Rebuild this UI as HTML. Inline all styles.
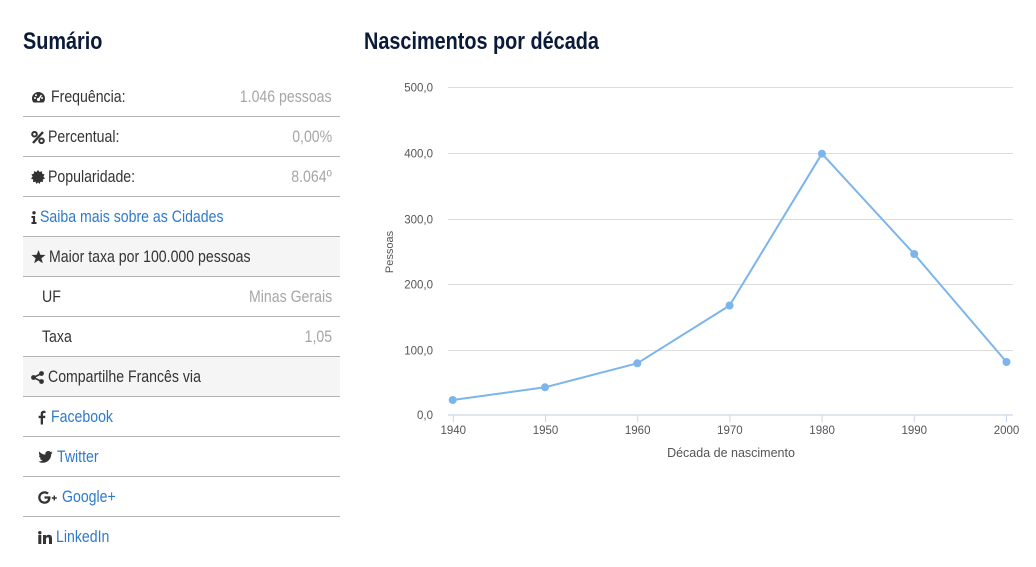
<!DOCTYPE html>
<html><head><meta charset="utf-8">
<style>
html,body{margin:0;padding:0;background:#fff;}
body{width:1036px;height:567px;position:relative;overflow:hidden;font-family:"Liberation Sans",sans-serif;}
.h{position:absolute;margin:0;font-weight:bold;font-size:24.5px;line-height:24px;color:#0b1a38;white-space:nowrap;transform:scaleX(0.81);transform-origin:left center;}
.tbl{position:absolute;left:23px;top:77px;width:317px;}
.row{height:40px;box-sizing:border-box;border-bottom:1px solid #b4b4b4;display:flex;align-items:center;font-size:17px;color:#333;padding:0 8px;white-space:nowrap;}
.row.last{border-bottom:none;}
.row.sh{background:#f5f5f5;}
.t{display:inline-block;transform:scaleX(0.83);transform-origin:left center;}
.row .v{margin-left:auto;color:#a6a6a6;display:inline-block;transform:scaleX(0.83);transform-origin:right center;}
.row a{color:#2d7acb;text-decoration:none;}
.ic{display:inline-block;margin-right:5px;flex:none;position:relative;top:0.5px;}
.sub{padding-left:19px;}
.soc{padding-left:15px;}
</style></head><body>
<div class="h" style="left:23px;top:30px;">Sumário</div>
<div class="h" style="left:364px;top:30px;">Nascimentos por década</div>

<div class="tbl">
 <div class="row"><svg class="ic" width="15" height="13" viewBox="0 0 15 13"><path d="M7.5 1A6.5 6.5 0 0 0 1 7.5c0 1.6.6 3 1.5 4h10c.9-1 1.5-2.4 1.5-4A6.5 6.5 0 0 0 7.5 1z" fill="#333"/><circle cx="7.5" cy="8.5" r="1.6" fill="#fff"/><path d="M7.5 8.5L10.5 4" stroke="#fff" stroke-width="1.4"/><circle cx="4" cy="7" r="1" fill="#fff"/><circle cx="5" cy="4.2" r="1" fill="#fff"/><circle cx="11" cy="7" r="1" fill="#fff"/></svg><span class="t">Frequência:</span><span class="v">1.046 pessoas</span></div>
 <div class="row"><svg class="ic" width="14" height="13" viewBox="0 0 14 13" style="margin-right:3px"><circle cx="3.5" cy="3.2" r="2.3" fill="none" stroke="#333" stroke-width="2"/><circle cx="10.5" cy="9.8" r="2.3" fill="none" stroke="#333" stroke-width="2"/><path d="M12 1L2 12" stroke="#333" stroke-width="2.4"/></svg><span class="t">Percentual:</span><span class="v">0,00%</span></div>
 <div class="row"><svg class="ic" width="14" height="14" viewBox="0 0 14 14" style="margin-right:3px"><polygon points="7,0 8.6,2 11,1.2 11.2,3.7 13.6,4.4 12.4,6.6 14,8.4 11.8,9.6 12,12 9.6,11.8 8.4,14 7,12.2 5.6,14 4.4,11.8 2,12 2.2,9.6 0,8.4 1.6,6.6 0.4,4.4 2.8,3.7 3,1.2 5.4,2" fill="#333"/></svg><span class="t">Popularidade:</span><span class="v">8.064º</span></div>
 <div class="row"><svg class="ic" width="6" height="13" viewBox="0 0 6 13" style="margin-right:3px"><circle cx="3" cy="1.8" r="1.7" fill="#333"/><path d="M0.5 5h3.6v6h1.4v2h-5v-2h1.4v-4h-1.4z" fill="#333"/></svg><a class="t">Saiba mais sobre as Cidades</a></div>
 <div class="row sh"><svg class="ic" width="15" height="14" viewBox="0 0 15 14" style="margin-right:3px"><polygon points="7.5,0 9.3,4.8 14.5,5 10.4,8.2 11.8,13.3 7.5,10.4 3.2,13.3 4.6,8.2 0.5,5 5.7,4.8" fill="#333"/></svg><span class="t">Maior taxa por 100.000 pessoas</span></div>
 <div class="row sub"><span class="t">UF</span><span class="v">Minas Gerais</span></div>
 <div class="row sub"><span class="t">Taxa</span><span class="v">1,05</span></div>
 <div class="row sh"><svg class="ic" width="13" height="13" viewBox="0 0 13 13" style="margin-right:4px"><circle cx="10.5" cy="2.5" r="2.4" fill="#333"/><circle cx="2.5" cy="6.5" r="2.4" fill="#333"/><circle cx="10.5" cy="10.5" r="2.4" fill="#333"/><path d="M10.5 2.5L2.5 6.5L10.5 10.5" stroke="#333" stroke-width="1.6" fill="none"/></svg><span class="t">Compartilhe Francês via</span></div>
 <div class="row soc"><svg class="ic" width="8" height="15" viewBox="0 0 8 14" style="margin-right:5px"><path d="M5 14V7.6h2.1l.3-2.4H5V3.7c0-.7.2-1.2 1.2-1.2h1.3V.4C7.2.3 6.5.2 5.7.2 3.9.2 2.7 1.3 2.7 3.3v1.9H.6v2.4h2.1V14z" fill="#333"/></svg><a class="t">Facebook</a></div>
 <div class="row soc"><svg class="ic" width="15" height="12" viewBox="0 0 24 20" style="margin-right:4px"><path d="M24 2.4c-.9.4-1.8.6-2.8.8 1-.6 1.8-1.6 2.2-2.7-1 .6-2 1-3.1 1.2C19.4.7 18.1.1 16.6.1c-2.7 0-4.9 2.2-4.9 4.9 0 .4 0 .8.1 1.1C7.7 5.9 4.1 4 1.7 1 1.2 1.7 1 2.6 1 3.5c0 1.7.9 3.2 2.2 4.1-.8 0-1.6-.2-2.2-.6v.1c0 2.4 1.7 4.4 3.9 4.8-.4.1-.8.2-1.3.2-.3 0-.6 0-.9-.1.6 2 2.4 3.4 4.6 3.4-1.7 1.3-3.8 2.1-6.1 2.1-.4 0-.8 0-1.2-.1 2.2 1.4 4.8 2.2 7.5 2.2 9.1 0 14-7.5 14-14v-.6c1-.7 1.8-1.6 2.5-2.6z" fill="#333"/></svg><a class="t">Twitter</a></div>
 <div class="row soc"><svg class="ic" width="20" height="13" viewBox="0 0 20 13" style="margin-right:4px"><path d="M6.5 5.4v2.2h3.6c-.2 1-1.2 2.9-3.6 2.9-2.2 0-4-1.8-4-4s1.8-4 4-4c1.2 0 2.1.5 2.6 1l1.7-1.7C9.7.8 8.2.2 6.5.2 3 .2.2 3 .2 6.5s2.8 6.3 6.3 6.3c3.6 0 6-2.5 6-6.1 0-.4 0-.7-.1-1.3z" fill="#333"/><path d="M17 4.5v1.8h1.8v1.4H17v1.8h-1.4V7.7h-1.8V6.3h1.8V4.5z" fill="#333"/></svg><a class="t">Google+</a></div>
 <div class="row soc last"><svg class="ic" width="14" height="13" viewBox="0 0 14 13" style="margin-right:4px"><rect x="0.3" y="4" width="3" height="9" fill="#333"/><circle cx="1.8" cy="1.7" r="1.7" fill="#333"/><path d="M5 4h2.9v1.3C8.4 4.4 9.5 3.8 10.8 3.8 13.2 3.8 14 5.3 14 7.7V13h-3V8.2c0-1.2-.2-2-1.3-2-1.2 0-1.7.9-1.7 2.1V13H5z" fill="#333"/></svg><a class="t">LinkedIn</a></div>
</div>

<svg width="1036" height="567" style="position:absolute;left:0;top:0" font-family="'Liberation Sans','DejaVu Sans',sans-serif">
 <g stroke="#dcdcdc" stroke-width="1">
  <line x1="448" y1="87.5" x2="1013" y2="87.5"/>
  <line x1="448" y1="153.5" x2="1013" y2="153.5"/>
  <line x1="448" y1="219.5" x2="1013" y2="219.5"/>
  <line x1="448" y1="284.5" x2="1013" y2="284.5"/>
  <line x1="448" y1="350.5" x2="1013" y2="350.5"/>
 </g>
 <line x1="448" y1="415" x2="1013" y2="415" stroke="#ccd6eb" stroke-width="1.2"/>
 <g stroke="#ccd6eb" stroke-width="1">
  <line x1="453.3" y1="415" x2="453.3" y2="422"/>
  <line x1="545.5" y1="415" x2="545.5" y2="422"/>
  <line x1="637.7" y1="415" x2="637.7" y2="422"/>
  <line x1="729.9" y1="415" x2="729.9" y2="422"/>
  <line x1="822.1" y1="415" x2="822.1" y2="422"/>
  <line x1="914.3" y1="415" x2="914.3" y2="422"/>
  <line x1="1006.5" y1="415" x2="1006.5" y2="422"/>
 </g>
 <g fill="#555" font-size="11.5" text-anchor="end">
  <text x="433" y="91.5">500,0</text>
  <text x="433" y="157.5">400,0</text>
  <text x="433" y="223.5">300,0</text>
  <text x="433" y="288.5">200,0</text>
  <text x="433" y="354.5">100,0</text>
  <text x="433" y="419">0,0</text>
 </g>
 <g fill="#555" font-size="11.5" text-anchor="middle">
  <text x="453.3" y="434">1940</text>
  <text x="545.5" y="434">1950</text>
  <text x="637.7" y="434">1960</text>
  <text x="729.9" y="434">1970</text>
  <text x="822.1" y="434">1980</text>
  <text x="914.3" y="434">1990</text>
  <text x="1006.5" y="434">2000</text>
 </g>
 <text x="731" y="457" fill="#555" font-size="12.5" text-anchor="middle">Década de nascimento</text>
 <text transform="translate(393,252) rotate(-90)" fill="#555" font-size="11" text-anchor="middle">Pessoas</text>
 <polyline points="452.7,400 545,387.3 637.3,363.3 729.6,305.5 821.9,153.7 914.2,254 1006.5,362" fill="none" stroke="#7cb5ec" stroke-width="2" stroke-linejoin="round"/>
 <g fill="#7cb5ec">
  <circle cx="452.7" cy="400" r="4"/>
  <circle cx="545" cy="387.3" r="4"/>
  <circle cx="637.3" cy="363.3" r="4"/>
  <circle cx="729.6" cy="305.5" r="4"/>
  <circle cx="821.9" cy="153.7" r="4"/>
  <circle cx="914.2" cy="254" r="4"/>
  <circle cx="1006.5" cy="362" r="4"/>
 </g>
</svg>
</body></html>
